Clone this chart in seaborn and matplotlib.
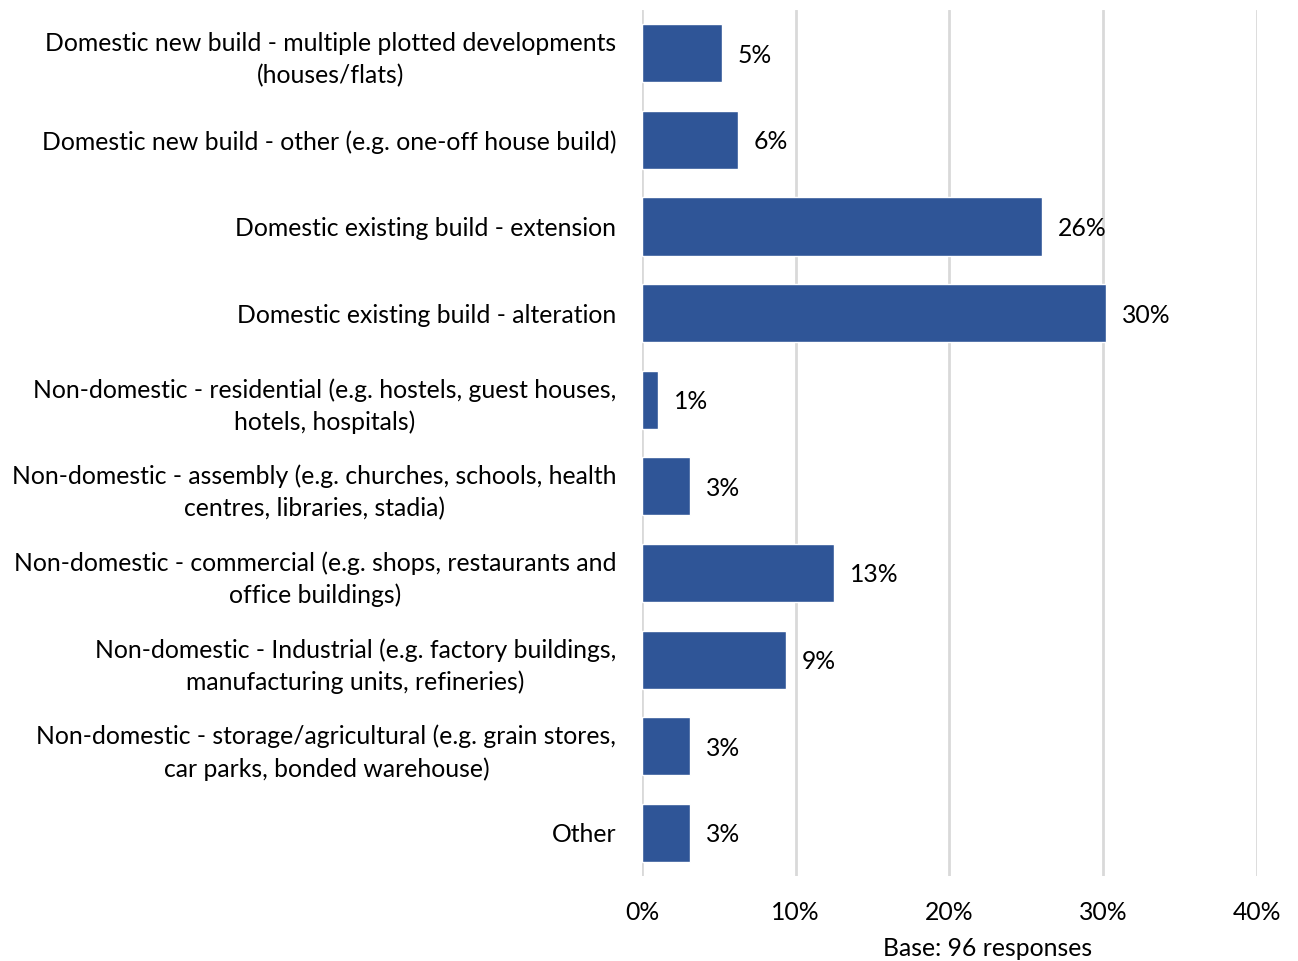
import matplotlib
matplotlib.use("Agg")
import matplotlib.pyplot as plt
import seaborn as sns
import pandas as pd

categories = [
    "Domestic new build - multiple plotted developments\n(houses/flats)",
    "Domestic new build - other (e.g. one-off house build)",
    "Domestic existing build - extension",
    "Domestic existing build - alteration",
    "Non-domestic - residential (e.g. hostels, guest houses,\nhotels, hospitals)",
    "Non-domestic - assembly (e.g. churches, schools, health\ncentres, libraries, stadia)",
    "Non-domestic - commercial (e.g. shops, restaurants and\noffice buildings)",
    "Non-domestic - Industrial (e.g. factory buildings,\nmanufacturing units, refineries)",
    "Non-domestic - storage/agricultural (e.g. grain stores,\ncar parks, bonded warehouse)",
    "Other",
]
values = [5.2, 6.25, 26.0, 30.2, 1.04, 3.125, 12.5, 9.375, 3.125, 3.125]
labels = ["5%", "6%", "26%", "30%", "1%", "3%", "13%", "9%", "3%", "3%"]
xticks = [0, 10, 20, 30, 40]
xticklabels = ["0%", "10%", "20%", "30%", "40%"]
note = "Base: 96 responses"

FS = 17.8

sns.set_theme(style="white")
plt.rcParams["font.family"] = ["Lato", "DejaVu Sans"]

df = pd.DataFrame({"cat": categories, "val": values})

fig = plt.figure(figsize=(12.98, 9.61), dpi=100)
ax = fig.add_axes([0.4946, 0.0884, 0.9684 - 0.4946, 0.9896 - 0.0884])

sns.barplot(data=df, y="cat", x="val", color="#2F5597", saturation=1,
            width=0.67, ax=ax, zorder=3)

ax.set_xlim(0, 40)
ax.set_ylim(len(categories) - 0.5, -0.5)
ax.set_xticks(xticks)
ax.set_xticklabels(xticklabels, fontsize=FS, color="#000000")
ax.tick_params(axis="x", length=0, pad=18)
ax.tick_params(axis="y", length=0, pad=18.5)
for t in ax.get_yticklabels():
    t.set_fontsize(FS)
    t.set_color("#000000")
    t.set_horizontalalignment("right")
    t.set_multialignment("center")
    t.set_linespacing(1.45)
ax.set_xlabel("")
ax.set_ylabel("")
ax.grid(axis="x", color="#D9D9D9", linewidth=2, zorder=0)
ax.grid(axis="y", visible=False)
for s in ax.spines.values():
    s.set_visible(False)

for i, (v, lab) in enumerate(zip(values, labels)):
    ax.annotate(lab, xy=(v, i), xytext=(11.5, 0), textcoords="offset points",
                ha="left", va="center_baseline", fontsize=FS, color="#000000")

fig.text(988 / 1298, 1 - 948 / 961, note, ha="center", va="center",
         fontsize=FS, color="#000000")

fig.savefig("out.png", dpi=100, facecolor="white")
